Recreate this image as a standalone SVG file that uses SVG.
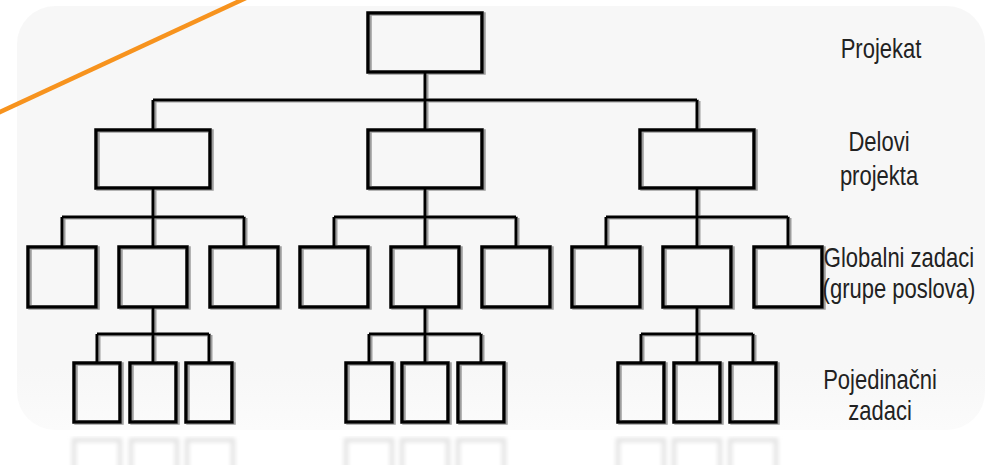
<svg xmlns="http://www.w3.org/2000/svg" width="987" height="465" viewBox="0 0 987 465">
  <defs>
    <filter id="sh" x="-10%" y="-10%" width="120%" height="120%">
      <feDropShadow dx="2" dy="1" stdDeviation="0.6" flood-color="#777" flood-opacity="0.7"/>
    </filter>
    <filter id="blur" x="-10%" y="-10%" width="120%" height="120%">
      <feGaussianBlur stdDeviation="2"/>
    </filter>
    <linearGradient id="fade" x1="0" y1="0" x2="0" y2="1">
      <stop offset="0" stop-color="#f7f7f7"/>
      <stop offset="0.85" stop-color="#f7f7f7"/>
      <stop offset="1" stop-color="#fbfbfb"/>
    </linearGradient>
    <style>
      .box { fill: none; stroke: #000; stroke-width: 3.5; }
      .ln { fill: none; stroke: #000; stroke-width: 3; }
      .refl { fill: none; stroke: #e2e2e2; stroke-width: 4; }
      .lbl { font-family: "Liberation Sans", Arial, sans-serif; font-size: 22px; fill: #222; text-anchor: middle; }
    </style>
  </defs>

  <rect x="0" y="0" width="987" height="465" fill="#ffffff"/>
  <rect x="17" y="6" width="968" height="424" rx="38" ry="38" fill="url(#fade)"/>

  <!-- reflection -->
  <g id="reflection" filter="url(#blur)">
    <rect class="refl" x="74" y="440" width="46" height="40"/>
    <rect class="refl" x="131" y="440" width="46" height="40"/>
    <rect class="refl" x="187" y="440" width="46" height="40"/>
    <rect class="refl" x="346" y="440" width="46" height="40"/>
    <rect class="refl" x="402" y="440" width="46" height="40"/>
    <rect class="refl" x="458" y="440" width="46" height="40"/>
    <rect class="refl" x="618" y="440" width="46" height="40"/>
    <rect class="refl" x="674" y="440" width="46" height="40"/>
    <rect class="refl" x="730" y="440" width="46" height="40"/>
  </g>

  <line x1="-2" y1="113" x2="246" y2="-2" stroke="#f7931e" stroke-width="4.5"/>

  <g filter="url(#sh)">
    <g id="connectors">
      <path class="ln" d="M425 72 V100 M153 100 H697 M153 100 V130 M425 100 V130 M697 100 V130"/>
      <path class="ln" d="M153 188 V217 M62 217 H244 M62 217 V247 M153 217 V247 M244 217 V247"/>
      <path class="ln" d="M425 188 V217 M334 217 H516 M334 217 V247 M425 217 V247 M516 217 V247"/>
      <path class="ln" d="M697 188 V217 M606 217 H788 M606 217 V247 M697 217 V247 M788 217 V247"/>
      <path class="ln" d="M153 307 V334 M97 334 H209 M97 334 V363 M153 334 V363 M209 334 V363"/>
      <path class="ln" d="M425 307 V334 M369 334 H481 M369 334 V363 M425 334 V363 M481 334 V363"/>
      <path class="ln" d="M697 307 V334 M641 334 H753 M641 334 V363 M697 334 V363 M753 334 V363"/>
    </g>

    <g id="n-projekat"><rect class="box" x="368" y="13" width="114" height="59"/></g>

    <g id="n-deo1"><rect class="box" x="96" y="130" width="114" height="58"/></g>
    <g id="n-deo2"><rect class="box" x="368" y="130" width="114" height="58"/></g>
    <g id="n-deo3"><rect class="box" x="640" y="130" width="114" height="58"/></g>

    <g id="n-g11"><rect class="box" x="28" y="247" width="68" height="60"/></g>
    <g id="n-g12"><rect class="box" x="119" y="247" width="68" height="60"/></g>
    <g id="n-g13"><rect class="box" x="210" y="247" width="68" height="60"/></g>
    <g id="n-g21"><rect class="box" x="300" y="247" width="68" height="60"/></g>
    <g id="n-g22"><rect class="box" x="391" y="247" width="68" height="60"/></g>
    <g id="n-g23"><rect class="box" x="482" y="247" width="68" height="60"/></g>
    <g id="n-g31"><rect class="box" x="572" y="247" width="68" height="60"/></g>
    <g id="n-g32"><rect class="box" x="663" y="247" width="68" height="60"/></g>
    <g id="n-g33"><rect class="box" x="754" y="247" width="68" height="60"/></g>

    <g id="n-p11"><rect class="box" x="74" y="363" width="46" height="59"/></g>
    <g id="n-p12"><rect class="box" x="130" y="363" width="46" height="59"/></g>
    <g id="n-p13"><rect class="box" x="186" y="363" width="46" height="59"/></g>
    <g id="n-p21"><rect class="box" x="346" y="363" width="46" height="59"/></g>
    <g id="n-p22"><rect class="box" x="402" y="363" width="46" height="59"/></g>
    <g id="n-p23"><rect class="box" x="458" y="363" width="46" height="59"/></g>
    <g id="n-p31"><rect class="box" x="618" y="363" width="46" height="59"/></g>
    <g id="n-p32"><rect class="box" x="674" y="363" width="46" height="59"/></g>
    <g id="n-p33"><rect class="box" x="730" y="363" width="46" height="59"/></g>
  </g>

  <g id="labels">
    <g transform="translate(881 58) scale(1 1.25)"><text class="lbl" x="0" y="0">Projekat</text></g>
    <g transform="translate(879 151) scale(1 1.25)"><text class="lbl" x="0" y="0">Delovi</text></g>
    <g transform="translate(879 185) scale(1 1.25)"><text class="lbl" x="0" y="0">projekta</text></g>
    <g transform="translate(899 267) scale(1 1.25)"><text class="lbl" x="0" y="0">Globalni zadaci</text></g>
    <g transform="translate(899 298) scale(1 1.25)"><text class="lbl" x="0" y="0">(grupe poslova)</text></g>
    <g transform="translate(880 389) scale(1 1.25)"><text class="lbl" x="0" y="0">Pojedinačni</text></g>
    <g transform="translate(880 420) scale(1 1.25)"><text class="lbl" x="0" y="0">zadaci</text></g>
  </g>
</svg>
